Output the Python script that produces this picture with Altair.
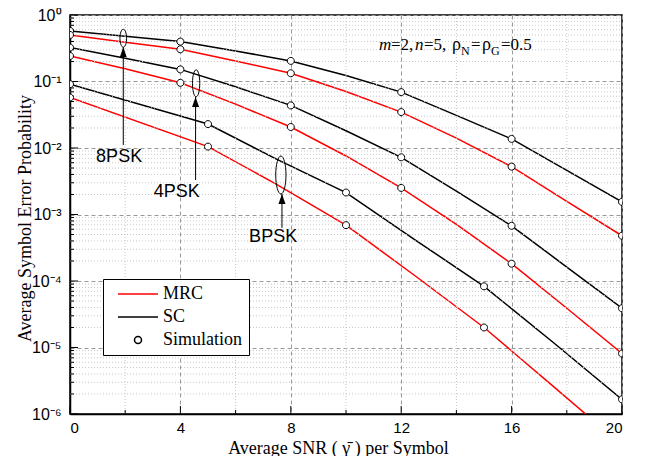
import altair as alt
import pandas as pd

# ---------------- data ----------------
snr_grid = [0, 2, 4, 6, 8, 10, 12, 14, 16, 18, 20]
ser_8psk_sc = [0.575, 0.479, 0.398, 0.288, 0.204, 0.123, 0.0692, 0.0309, 0.0137, 0.00461, 0.00155]
ser_8psk_mrc = [0.501, 0.389, 0.305, 0.204, 0.133, 0.0708, 0.0347, 0.0141, 0.00525, 0.00158, 0.000479]
ser_4psk_sc = [0.324, 0.224, 0.152, 0.0832, 0.0437, 0.0182, 0.00724, 0.00224, 0.000676, 0.000162, 0.0000389]
ser_4psk_mrc = [0.242, 0.155, 0.0955, 0.0457, 0.0207, 0.00759, 0.00251, 0.000708, 0.000182, 0.0000389, 0.00000813]

snr_bpsk = [0, 5, 7.5, 10, 12.5, 15, 17.5, 20]
ser_bpsk_sc = [0.0912, 0.0229, 0.00676, 0.00214, 0.000417, 0.0000832, 0.0000120, 0.00000166]
ser_bpsk_mrc = [0.0575, 0.0105, 0.00282, 0.000692, 0.000120, 0.0000200, 0.00000263, 0.000000339]

sim_snr_psk = [0, 4, 8, 12, 16, 20]
sim_8psk_sc = [0.575, 0.398, 0.204, 0.0692, 0.0137, 0.00155]
sim_8psk_mrc = [0.501, 0.305, 0.133, 0.0347, 0.00525, 0.000479]
sim_4psk_sc = [0.324, 0.152, 0.0437, 0.00724, 0.000676, 0.0000389]
sim_4psk_mrc = [0.242, 0.0955, 0.0207, 0.00251, 0.000182, 0.00000813]
sim_snr_bpsk_sc = [0, 5, 10, 15, 20]
sim_bpsk_sc = [0.0912, 0.0229, 0.00214, 0.0000832, 0.00000166]
sim_snr_bpsk_mrc = [0, 5, 10, 15]
sim_bpsk_mrc = [0.0575, 0.0105, 0.000692, 0.0000200]

legend_names = ["MRC", "SC", "Simulation"]
x_ticks = [0, 4, 8, 12, 16, 20]
x_minor = [2, 6, 10, 14, 18]
y_ticks = [1e-6, 1e-5, 1e-4, 1e-3, 1e-2, 1e-1, 1]
y_tick_labels = ["10⁰", "10⁻¹", "10⁻²", "10⁻³", "10⁻⁴", "10⁻⁵", "10⁻⁶"]  # indexed by -log10
y_minor = [k * 10.0 ** d for d in range(-6, 0) for k in range(2, 10)]

# annotation anchors (data coordinates)
ellipses = [  # (snr, ser)
    (1.93, 0.447), (4.57, 0.094), (7.64, 0.00393)]
arrows = [  # (snr, from ser, to ser)
    (1.93, 0.0111, 0.327), (4.55, 0.0033, 0.0585), (7.68, 0.00063, 0.00204)]
labels = [("8PSK", 1.78, 0.0074), ("4PSK", 3.87, 0.0022), ("BPSK", 7.36, 0.000459)]

# ---------------- tables ----------------
rows = []
for name, leg, xs, ys in [
    ("8PSK SC", "SC", snr_grid, ser_8psk_sc), ("8PSK MRC", "MRC", snr_grid, ser_8psk_mrc),
    ("4PSK SC", "SC", snr_grid, ser_4psk_sc), ("4PSK MRC", "MRC", snr_grid, ser_4psk_mrc),
    ("BPSK SC", "SC", snr_bpsk, ser_bpsk_sc), ("BPSK MRC", "MRC", snr_bpsk, ser_bpsk_mrc)]:
    for x, y in zip(xs, ys):
        rows.append({"snr": x, "ser": y, "curve": name, "legend": leg})
curves = pd.DataFrame(rows)

srows = []
for xs, ys in [(sim_snr_psk, sim_8psk_sc), (sim_snr_psk, sim_8psk_mrc),
               (sim_snr_psk, sim_4psk_sc), (sim_snr_psk, sim_4psk_mrc),
               (sim_snr_bpsk_sc, sim_bpsk_sc), (sim_snr_bpsk_mrc, sim_bpsk_mrc)]:
    for x, y in zip(xs, ys):
        srows.append({"snr": x, "ser": y, "legend": "Simulation"})
sims = pd.DataFrame(srows)

W, H = 552, 399
xscale = alt.Scale(domain=[0, 20], nice=False, zero=False)
yscale = alt.Scale(type="log", domain=[1e-6, 1], nice=False)

label_arr = "[" + ",".join("'%s'" % s for s in y_tick_labels) + "]"
x_title = "Average SNR ( \u03b3\u0304 ) per Symbol"
y_title = "Average Symbol Error Probability"

xaxis = alt.Axis(values=x_ticks, format="d", ticks=False, grid=True, gridDash=[4, 3],
                 gridColor="#999999", gridWidth=1, domainColor="black", domainWidth=1.5,
                 labelFont="Liberation Sans", labelFontSize=15, labelColor="black",
                 labelPadding=6, title=x_title,
                 titleFont="Liberation Serif", titleFontSize=18, titleFontWeight="normal",
                 titleColor="black", titleX=268, titleY=39, titleBaseline="alphabetic")
yaxis = alt.Axis(values=y_ticks, ticks=False, grid=True, gridDash=[4, 3],
                 gridColor="#999999", gridWidth=1, domainColor="black", domainWidth=1.5,
                 labelFont="Liberation Sans", labelFontSize=16, labelColor="black",
                 labelPadding=9, labelExpr=label_arr + "[round(-log(datum.value)/LN10)]",
                 title=y_title, titleFont="Liberation Serif",
                 titleFontSize=18, titleFontWeight="normal", titleColor="black",
                 titleAngle=-90, titleX=-40, titleY=203, titleAlign="center",
                 titleBaseline="alphabetic")


def X(field="snr"):
    return alt.X(f"{field}:Q", scale=xscale, axis=xaxis, title=x_title)


def Y(field="ser"):
    return alt.Y(f"{field}:Q", scale=yscale, axis=yaxis, title=y_title)


legend = alt.Legend(title=None, orient="none", legendX=33, legendY=264,
                    strokeColor="black", fillColor="white", padding=6,
                    labelFont="Liberation Serif", labelFontSize=18, labelColor="black",
                    symbolSize=100, symbolStrokeWidth=1.5, symbolOffset=20,
                    labelOffset=16, rowPadding=5, cornerRadius=0)

color_scale = alt.Scale(domain=legend_names, range=["#ff0000", "black", "black"])
k = 0.5523
r = 0.7
circle_path = (f"M0,{-r}C{k*r},{-r},{r},{-k*r},{r},0C{r},{k*r},{k*r},{r},0,{r}"
               f"C{-k*r},{r},{-r},{k*r},{-r},0C{-r},{-k*r},{-k*r},{-r},0,{-r}Z")
shape_scale = alt.Scale(domain=legend_names, range=["M-4,0L4,0", "M-4,0L4,0", circle_path])


def ellipse_path(rx):
    return (f"M0,-1C{k*rx},-1,{rx},{-k},{rx},0C{rx},{k},{k*rx},1,0,1"
            f"C{-k*rx},1,{-rx},{k},{-rx},0C{-rx},{-k},{-k*rx},-1,0,-1Z")


# ---------------- layers ----------------
lines = alt.Chart(curves).mark_line(clip=True, strokeWidth=1.5).encode(
    x=X(), y=Y(),
    color=alt.Color("legend:N", scale=color_scale, legend=legend),
    detail="curve:N")

grid_x = alt.Chart(pd.DataFrame({"snr": x_minor})).mark_rule(
    color="#c8c8c8", strokeDash=[1, 2], strokeWidth=1).encode(
    x=X(), y=alt.value(0), y2=alt.value(H))
grid_y = alt.Chart(pd.DataFrame({"ser": y_minor})).mark_rule(
    color="#c8c8c8", strokeDash=[1, 2], strokeWidth=1).encode(
    y=Y(), x=alt.value(0), x2=alt.value(W))

tick_y_major = alt.Chart(pd.DataFrame({"ser": y_ticks})).mark_rule(color="black").encode(
    y=Y(), x=alt.value(0), x2=alt.value(8))
tick_y_minor = alt.Chart(pd.DataFrame({"ser": y_minor})).mark_rule(color="black").encode(
    y=Y(), x=alt.value(0), x2=alt.value(4))
tick_x_major = alt.Chart(pd.DataFrame({"snr": x_ticks})).mark_rule(color="black").encode(
    x=X(), y=alt.value(H), y2=alt.value(H - 8))
tick_x_minor = alt.Chart(pd.DataFrame({"snr": x_minor})).mark_rule(color="black").encode(
    x=X(), y=alt.value(H), y2=alt.value(H - 4))

points = alt.Chart(sims).mark_point(clip=True, filled=False, fill="white", fillOpacity=1,
                                    opacity=1, strokeWidth=1, size=100).encode(
    x=X(), y=Y(),
    color=alt.Color("legend:N", scale=color_scale, legend=legend),
    shape=alt.Shape("legend:N", scale=shape_scale, legend=legend))

ell_specs = [(0.37, 324), (0.27, 729), (0.27, 1444)]
ell_layers = []
for (ex, ey), (rx, sz) in zip(ellipses, ell_specs):
    ell_layers.append(
        alt.Chart(pd.DataFrame({"snr": [ex], "ser": [ey]})).mark_point(
            shape=ellipse_path(rx), size=sz, filled=False, color="black",
            strokeWidth=1, opacity=1).encode(x=X(), y=Y()))

arrow_df = pd.DataFrame({"snr": [a[0] for a in arrows], "ser": [a[1] for a in arrows],
                         "ser2": [a[2] for a in arrows]})
arrow_lines = alt.Chart(arrow_df).mark_rule(color="black", strokeWidth=1).encode(
    x=X(), y=Y(), y2="ser2:Q")
arrow_heads = alt.Chart(arrow_df).mark_point(
    shape="M0,0L0.35,1L-0.35,1Z", size=400, filled=True, color="black", opacity=1).encode(
    x=X(), y=Y("ser2"))

label_df = pd.DataFrame({"txt": [l[0] for l in labels], "snr": [l[1] for l in labels],
                         "ser": [l[2] for l in labels]})
label_text = alt.Chart(label_df).mark_text(
    font="Liberation Sans", fontSize=18, color="black", align="center",
    baseline="middle").encode(x=X(), y=Y(), text="txt:N")

one = pd.DataFrame({"k": [0]})


def piece(s, x, y, size=17, style="normal"):
    return alt.Chart(one).mark_text(
        text=s, align="left", baseline="alphabetic", font="Liberation Serif",
        fontSize=size, fontStyle=style, color="black").encode(
        x=alt.value(x), y=alt.value(y))


params = [
    piece("m", 309, 35, style="italic"),
    piece("=2,", 321, 35),
    piece("n", 345, 35, style="italic"),
    piece("=5,", 354, 35),
    piece("\u03c1", 382, 35, size=18),
    piece("N", 391, 40, size=12),
    piece("=", 401, 35),
    piece("\u03c1", 412, 35, size=18),
    piece("G", 421, 40, size=12),
    piece("=0.5", 431, 35),
]

chart = alt.layer(
    lines, grid_x, grid_y, tick_y_major, tick_y_minor, tick_x_major, tick_x_minor,
    points, *ell_layers, arrow_lines, arrow_heads, label_text, *params
).properties(
    width=W, height=H,
    padding={"left": 62, "top": 7, "right": 18, "bottom": 42},
    autosize=alt.AutoSizeParams(type="none"),
    background="white",
).configure_view(stroke="black", strokeWidth=1.5)

chart.save("out.html", embed_options={"renderer": "svg", "actions": False})
